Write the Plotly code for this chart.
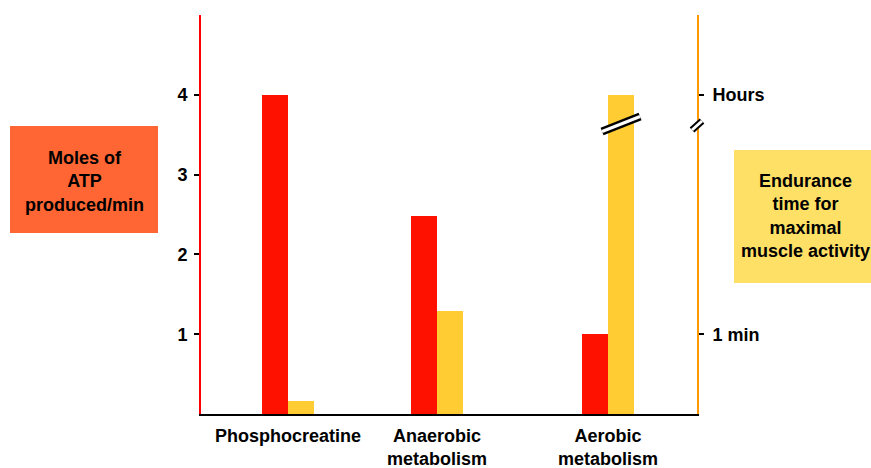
import plotly.graph_objects as go

# ---- data ----
categories = ["Phosphocreatine", "Anaerobic<br>metabolism", "Aerobic<br>metabolism"]
atp_moles = [4.0, 2.48, 1.0]          # Moles of ATP produced/min (left axis)
endurance = [0.16, 1.29, 4.0]         # Endurance time (right axis scale)
left_ticks = [1, 2, 3, 4]
right_tickvals = [1, 4]
right_ticktext = ["1 min", "Hours"]

# ---- layout constants (pixels) ----
W, H = 871, 468
L, R, T, B = 201, 697, 15, 414
pw, ph = R - L, B - T
centers = [1.0, 2.0, 3.148]
xr = [0.416, 0.416 + pw / 149.0]
ppx = pw / (xr[1] - xr[0])           # pixels per x unit
bw = 26 / ppx                          # bar width
yr = [0, 5]
ppy = ph / (yr[1] - yr[0])

RED = "#ff1100"
YEL = "#ffcc33"
FONT = "Liberation Sans, Arial, sans-serif"

fig = go.Figure()
fig.add_trace(go.Bar(x=centers, y=atp_moles, width=bw, offset=-bw,
                     marker=dict(color=RED, line=dict(width=0)), yaxis="y"))
fig.add_trace(go.Bar(x=centers, y=endurance, width=bw, offset=0,
                     marker=dict(color=YEL, line=dict(width=0)), yaxis="y2"))

def px2paper_x(px):
    return (px - L) / pw

def px2paper_y(py):
    return (B - py) / ph

shapes = []
# left label box
shapes.append(dict(type="rect", xref="paper", yref="paper", layer="below",
                   x0=px2paper_x(10), x1=px2paper_x(158),
                   y0=px2paper_y(233), y1=px2paper_y(126),
                   fillcolor="#ff6633", line=dict(width=0)))
# right label box
shapes.append(dict(type="rect", xref="paper", yref="paper", layer="below",
                   x0=px2paper_x(734), x1=px2paper_x(880),
                   y0=px2paper_y(283), y1=px2paper_y(150),
                   fillcolor="#ffe066", line=dict(width=0)))

# break mark across the aerobic endurance bar
bc = centers[2] + bw / 2
bx0, bx1 = bc - 19 / ppx, bc + 19 / ppx
by_mid = (B - 124) / ppy
by0, by1 = by_mid - 7.5 / ppy, by_mid + 7.5 / ppy
for col, wd in (("black", 8), ("white", 3)):
    shapes.append(dict(type="line", xref="x", yref="y", layer="above",
                       x0=bx0, x1=bx1, y0=by0, y1=by1,
                       line=dict(color=col, width=wd)))
# break mark on right axis
for col, wd in (("black", 7), ("white", 3)):
    shapes.append(dict(type="line", xref="paper", yref="y", layer="above",
                       x0=px2paper_x(692), x1=px2paper_x(702),
                       y0=(B - 130) / ppy, y1=(B - 121) / ppy,
                       line=dict(color=col, width=wd)))

annotations = [
    dict(text="Moles of<br>ATP<br>produced/min", xref="paper", yref="paper",
         x=px2paper_x(84), y=px2paper_y(181), showarrow=False,
         font=dict(family=FONT, size=18, color="black", weight="bold"),
         xanchor="center", yanchor="middle", align="center"),
    dict(text="Endurance<br>time for<br>maximal<br>muscle activity", xref="paper", yref="paper",
         x=px2paper_x(805), y=px2paper_y(216), showarrow=False,
         font=dict(family=FONT, size=18, color="black", weight="bold"),
         xanchor="center", yanchor="middle", align="center"),
]

tickfont = dict(family=FONT, size=18, color="black", weight="bold")

fig.update_layout(
    template="none",
    width=W, height=H,
    margin=dict(l=L, r=W - R, t=T, b=H - B, pad=0),
    paper_bgcolor="white", plot_bgcolor="white",
    showlegend=False, barmode="overlay", bargap=0,
    shapes=shapes, annotations=annotations,
    xaxis=dict(range=xr, tickvals=centers, ticktext=categories, automargin=False,
               showline=True, linecolor="black", linewidth=2,
               showgrid=False, zeroline=False, ticks="", tickfont=tickfont,
               ticklabelstandoff=4, fixedrange=True),
    yaxis=dict(range=yr, tickvals=left_ticks, automargin=False,
               showline=True, linecolor="#ff0000",
               linewidth=2, showgrid=False, zeroline=False, ticks="outside",
               ticklen=5, tickwidth=2, tickcolor="black", tickfont=tickfont,
               ticklabelstandoff=3),
    yaxis2=dict(range=yr, overlaying="y", side="right", tickvals=right_tickvals,
                ticktext=right_ticktext, automargin=False,
                showline=True, linecolor="#ff9900",
                linewidth=2, showgrid=False, zeroline=False, ticks="outside",
                ticklen=5, tickwidth=2, tickcolor="black", tickfont=tickfont,
                ticklabelstandoff=5),
)

fig.write_html("out.html", config={"displayModeBar": False},
               post_script="document.body.style.margin='0';document.body.style.overflow='hidden';")
